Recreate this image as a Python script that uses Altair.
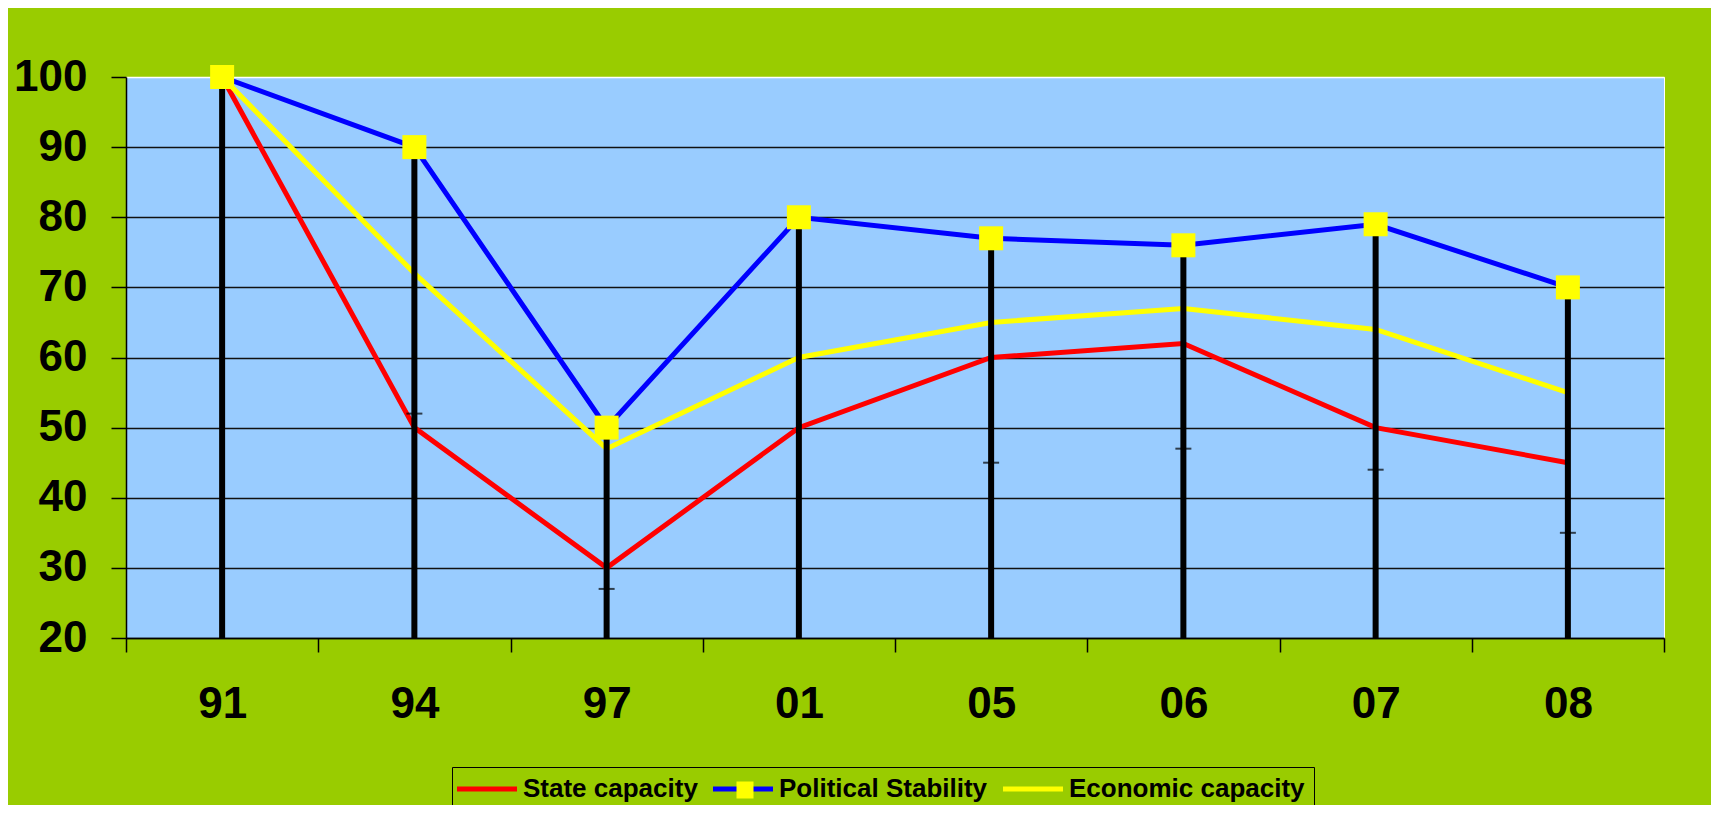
import altair as alt
import pandas as pd

# ---- data ----
years = ["91", "94", "97", "01", "05", "06", "07", "08"]
state_capacity = [100, 50, 30, 50, 60, 62, 50, 45]
political_stability = [100, 90, 50, 80, 77, 76, 79, 70]
economic_capacity = [100, 72, 47, 60, 65, 67, 64, 55]
low_values = [20, 20, 20, 20, 20, 20, 20, 20]
close_years = ["94", "97", "05", "06", "07", "08"]
close_values = [52, 27, 45, 47, 44, 35]
series_names = ["State capacity", "Political Stability", "Economic capacity"]
series_colors = ["#FF0000", "#0000FF", "#FFFF00"]
y_ticks = [20, 30, 40, 50, 60, 70, 80, 90, 100]

GREEN = "#99CC00"
PLOT_BG = "#99CCFF"
FONT = "Liberation Sans"

lines_df = pd.DataFrame({
    "year": years * 3,
    "series": [series_names[0]] * len(years) + [series_names[1]] * len(years) + [series_names[2]] * len(years),
    "value": state_capacity + political_stability + economic_capacity,
    "year_idx": list(range(len(years))) * 3,
})
hilo_df = pd.DataFrame({"year": years, "high": political_stability, "low": low_values})
close_df = pd.DataFrame({"year": close_years, "close": close_values})
marker_df = pd.DataFrame({"year": years, "value": political_stability,
                          "series": [series_names[1]] * len(years)})

x_enc = alt.X(
    "year:N", sort=years, bandPosition=0.5,
    scale=alt.Scale(type="band", domain=years, paddingInner=0, paddingOuter=0),
    axis=alt.Axis(title=None, labelAngle=0, labelFont=FONT, labelFontSize=44,
                  labelFontWeight="bold", labelColor="black", labelPadding=30,
                  tickSize=14, tickColor="black", tickWidth=1.5, tickBand="extent",
                  domainColor="black", domainWidth=1.5, grid=False),
)
y_scale = alt.Scale(domain=[20, 100], nice=False, zero=False)
y_axis = alt.Axis(title=None, values=y_ticks, labelFont=FONT, labelFontSize=44,
                  labelFontWeight="bold", labelColor="black", labelPadding=24,
                  tickSize=15, tickColor="black", tickWidth=1.5,
                  domainColor="black", domainWidth=1.5,
                  gridColor=alt.condition("datum.value == 100", alt.value("white"), alt.value("#111111")),
                  gridWidth=1.5, gridOpacity=1)

lines = alt.Chart(lines_df).mark_line(strokeWidth=5).encode(
    x=x_enc,
    y=alt.Y("value:Q", scale=y_scale, axis=y_axis),
    color=alt.Color(
        "series:N", sort=series_names,
        scale=alt.Scale(domain=series_names, range=series_colors),
        legend=alt.Legend(
            title=None, orient="none", legendX=326, legendY=690, direction="horizontal",
            symbolType="M-3,0H3", symbolSize=400, symbolStrokeWidth=5, symbolOffset=13,
            labelOffset=23, labelFont=FONT, labelFontSize=26, labelFontWeight="bold",
            labelColor="black", strokeColor="black", fillColor=GREEN, padding=9,
            columnPadding=5, labelLimit=400,
        ),
    ),
    order=alt.Order("year_idx:Q"),
)

hilo = alt.Chart(hilo_df).mark_rule(strokeWidth=6, color="black").encode(
    x=x_enc,
    y=alt.Y("high:Q", scale=y_scale),
    y2="low:Q",
)

ticks = alt.Chart(close_df).mark_tick(color="black", thickness=2, size=16).encode(
    x=x_enc,
    y=alt.Y("close:Q", scale=y_scale),
)

markers = alt.Chart(marker_df).mark_point(shape="square", filled=True, size=576,
                                           opacity=1, strokeWidth=0).encode(
    x=x_enc,
    y=alt.Y("value:Q", scale=y_scale),
    fill=alt.Fill(
        "series:N",
        scale=alt.Scale(domain=[series_names[1]], range=["#FFFF00"]),
        legend=alt.Legend(
            title=None, orient="none", legendX=599, legendY=693,
            symbolType="M-0.425,-0.425H0.425V0.425H-0.425Z", symbolSize=1600,
            symbolStrokeWidth=0, symbolOpacity=1, labelExpr="''", labelFontSize=1,
            padding=0,
        ),
    ),
)

chart = alt.layer(lines, hilo, ticks, markers).resolve_scale(
    color="independent", fill="independent"
).properties(
    width=1538, height=561,
    background=GREEN,
    padding={"left": 118, "top": 69, "right": 47, "bottom": 167},
    autosize=alt.AutoSizeParams(type="none"),
).configure_view(
    fill=PLOT_BG, stroke="white", strokeWidth=1
)

chart.save("out.html", embed_options={"renderer": "svg", "actions": False})
